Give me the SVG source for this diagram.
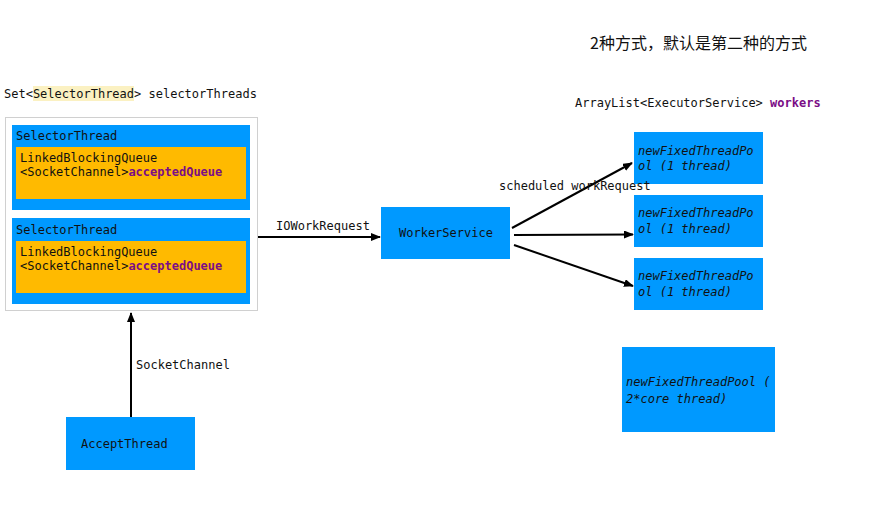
<svg xmlns="http://www.w3.org/2000/svg" width="877" height="523" viewBox="0 0 877 523">
<style>
text{font-family:"DejaVu Sans Mono","Liberation Mono",monospace;font-size:12px;fill:#111}
.blue{fill:#0099ff}
.yel{fill:#ffba00}
.pur{fill:#7b0d86;font-weight:bold}
.it{font-style:italic}
.cn{font-family:"Noto Sans CJK SC","Noto Sans",sans-serif;font-size:16px;fill:#111}
.ln{stroke:#000;stroke-width:2;fill:none}
</style>
<defs>
<marker id="ah" markerWidth="10" markerHeight="8" refX="9" refY="4" orient="auto" markerUnits="userSpaceOnUse">
<path d="M0,0 L10,4 L0,8 Z" fill="#000"/>
</marker>
</defs>
<rect width="877" height="523" fill="#fff"/>
<text class="cn" x="590" y="49">2种方式，默认是第二种的方式</text>
<g id="selectorThreadsLabel">
<rect x="33" y="86" width="101" height="15" fill="#fbf1c2"/>
<text x="4" y="98">Set&lt;SelectorThread&gt; selectorThreads</text>
</g>
<text x="575" y="107">ArrayList&lt;ExecutorService&gt; <tspan class="pur">workers</tspan></text>
<g id="selectorThreads">
<rect x="5.5" y="117.5" width="252" height="193" fill="#fff" stroke="#d0d0d0"/>
</g>
<g id="selector1">
<rect class="blue" x="12" y="125" width="238" height="85"/>
<text x="16" y="140">SelectorThread</text>
<rect class="yel" x="16" y="147" width="230" height="52"/>
<text x="20" y="162">LinkedBlockingQueue</text>
<text x="20" y="176">&lt;SocketChannel&gt;<tspan class="pur">acceptedQueue</tspan></text>
</g>
<g id="selector2">
<rect class="blue" x="12" y="218" width="238" height="86"/>
<text x="16" y="234">SelectorThread</text>
<rect class="yel" x="16" y="241" width="230" height="52"/>
<text x="20" y="256">LinkedBlockingQueue</text>
<text x="20" y="270">&lt;SocketChannel&gt;<tspan class="pur">acceptedQueue</tspan></text>
</g>
<g id="workerService">
<rect class="blue" x="381" y="207" width="129" height="52"/>
<text x="399" y="237">WorkerService</text>
</g>
<g id="pool1">
<rect class="blue" x="634" y="132" width="129" height="52"/>
<text class="it" x="638" y="155">newFixedThreadPo</text>
<text class="it" x="638" y="170">ol (1 thread)</text>
</g>
<g id="pool2">
<rect class="blue" x="634" y="195" width="129" height="52"/>
<text class="it" x="638" y="217">newFixedThreadPo</text>
<text class="it" x="638" y="233">ol (1 thread)</text>
</g>
<g id="pool3">
<rect class="blue" x="634" y="258" width="129" height="52"/>
<text class="it" x="638" y="280">newFixedThreadPo</text>
<text class="it" x="638" y="296">ol (1 thread)</text>
</g>
<g id="poolBig">
<rect class="blue" x="622" y="347" width="153" height="85"/>
<text class="it" x="626" y="386">newFixedThreadPool (</text>
<text class="it" x="626" y="403">2*core thread)</text>
</g>
<g id="acceptThread">
<rect class="blue" x="66" y="417" width="129" height="53"/>
<text x="81" y="448">AcceptThread</text>
</g>
<g id="connectors">
<line class="ln" x1="258" y1="237" x2="380" y2="237" marker-end="url(#ah)"/>
<text x="276" y="230">IOWorkRequest</text>
<line class="ln" x1="512" y1="228" x2="632" y2="163" marker-end="url(#ah)"/>
<line class="ln" x1="514" y1="235" x2="633" y2="234.5" marker-end="url(#ah)"/>
<line class="ln" x1="514" y1="245" x2="633" y2="286" marker-end="url(#ah)"/>
<text x="499" y="190">scheduled workRequest</text>
<line class="ln" x1="131" y1="417" x2="131" y2="313" marker-end="url(#ah)"/>
<text x="136" y="369">SocketChannel</text>
</g>
</svg>
